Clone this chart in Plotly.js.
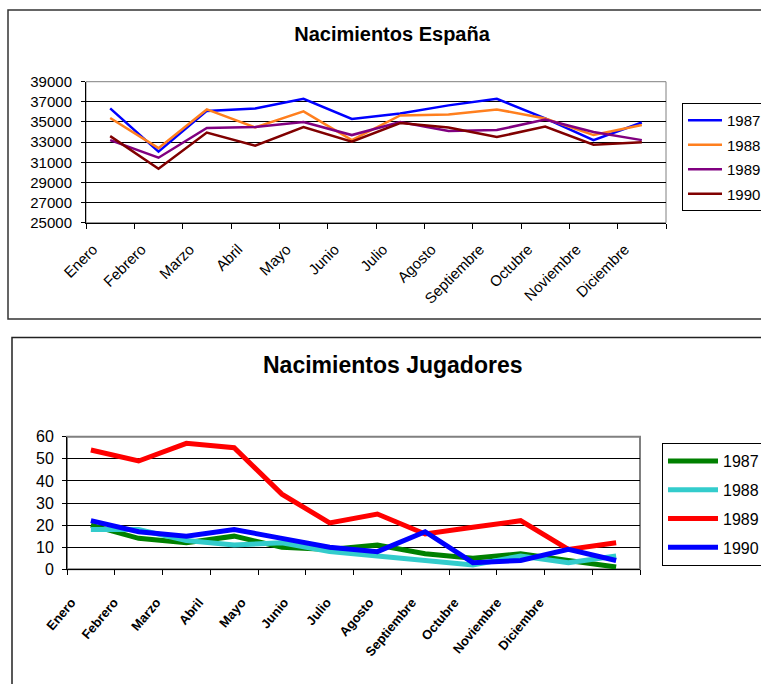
<!DOCTYPE html>
<html>
<head>
<meta charset="utf-8">
<script src="https://cdn.plot.ly/plotly-3.0.1.min.js"></script>
<style>html,body{margin:0;padding:0;background:#fff;}#chart{width:761px;height:684px;}</style>
</head>
<body>
<div id="chart"></div>
<script>
// ---- Data ----
const months = ['Enero','Febrero','Marzo','Abril','Mayo','Junio','Julio','Agosto','Septiembre','Octubre','Noviembre','Diciembre'];
const years = ['1987','1988','1989','1990'];

const esp1987 = [36350, 32050, 36100, 36350, 37300, 35300, 35850, 36650, 37300, 35350, 33200, 34950];
const esp1988 = [35400, 32400, 36250, 34450, 36050, 33200, 35650, 35750, 36250, 35350, 33700, 34700];
const esp1989 = [33200, 31450, 34400, 34500, 35000, 33700, 35000, 34100, 34200, 35250, 34000, 33200];
const esp1990 = [33600, 30350, 33950, 32650, 34500, 33050, 34900, 34450, 33500, 34550, 32750, 33000];

const jug1987 = [20, 14, 12, 15, 10, 9, 11, 7, 5, 7, 4, 1];
const jug1988 = [18, 18, 13, 11, 12, 8, 6, 4, 2, 6, 3, 6];
const jug1989 = [54, 49, 57, 55, 34, 21, 25, 16, 19, 22, 9, 12];
const jug1990 = [22, 17, 15, 18, 14, 10, 8, 17, 3, 4, 9, 4];

const espSeries = [esp1987, esp1988, esp1989, esp1990];
const jugSeries = [jug1987, jug1988, jug1989, jug1990];
const espColors = ['#0000FF', '#FF7F1E', '#800080', '#800000'];
const jugColors = ['#008000', '#33CCCC', '#FF0000', '#0000FF'];

// ---- Layout helpers ----
const W = 761, H = 684;
const px = v => v / W;
const py = v => 1 - v / H;
const FONT = 'Liberation Sans, Arial, sans-serif';

const traces = [];
espSeries.forEach((s, i) => {
  traces.push({
    type: 'scatter', mode: 'lines', x: months, y: s, name: years[i],
    xaxis: 'x', yaxis: 'y', legend: 'legend', legendgroup: 'e' + i,
    line: {color: espColors[i], width: 2.5}
  });
});
jugSeries.forEach((s, i) => {
  traces.push({
    type: 'scatter', mode: 'lines', x: months, y: s, name: years[i],
    xaxis: 'x2', yaxis: 'y2', legend: 'legend2', legendgroup: 'g' + i,
    line: {color: jugColors[i], width: 5}
  });
});
// empty helper trace so the label-only axis of the lower chart is created
traces.push({type: 'scatter', mode: 'lines', x: [], y: [], xaxis: 'x3', yaxis: 'y3',
  showlegend: false, hoverinfo: 'skip'});

const catAxis = (domain, anchor) => ({
  domain: domain, anchor: anchor, type: 'category', categoryorder: 'array', categoryarray: months,
  range: [-0.5, 11.5], tickson: 'boundaries', ticks: 'outside', ticklen: 5, tickcolor: '#000',
  showgrid: false, showline: true, linecolor: '#000', linewidth: 1, zeroline: false,
  fixedrange: true
});

const xTop = catAxis([px(86), px(666)], 'y');
Object.assign(xTop, {
  tickangle: -45, ticklabelshift: -17, ticklabelstandoff: 11,
  tickfont: {family: FONT, size: 15, color: '#000'}
});
const xBot = catAxis([px(67), px(640)], 'y2');
xBot.showticklabels = false;

const layout = {
  width: W, height: H,
  margin: {l: 0, r: 0, t: 0, b: 0, autoexpand: false},
  paper_bgcolor: '#fff', plot_bgcolor: 'rgba(0,0,0,0)',
  font: {family: FONT, color: '#000'},
  showlegend: true,
  title: {
    text: 'Nacimientos España', x: px(392), xanchor: 'center', xref: 'paper',
    y: py(34), yanchor: 'middle', yref: 'paper',
    font: {family: FONT, size: 20, weight: 'bold', color: '#000'}
  },
  xaxis: xTop,
  yaxis: {
    domain: [py(222.7), py(81.7)], anchor: 'x', range: [25000, 39000], dtick: 2000, tick0: 25000,
    tickformat: 'd',
    ticks: 'outside', ticklen: 4, tickcolor: '#000', ticklabelstandoff: 6,
    showgrid: true, gridcolor: '#000', gridwidth: 1, showline: true, linecolor: '#000', zeroline: false,
    tickfont: {family: FONT, size: 15, color: '#000'}, fixedrange: true
  },
  xaxis2: xBot,
  yaxis2: {
    domain: [py(569.3), py(436.7)], anchor: 'x2', range: [0, 60], dtick: 10, tick0: 0,
    ticks: 'outside', ticklen: 4, tickcolor: '#000', ticklabelstandoff: 5,
    showgrid: true, gridcolor: '#000', gridwidth: 1, showline: true, linecolor: '#000', zeroline: false,
    tickfont: {family: FONT, size: 16, color: '#000'}, fixedrange: true
  },
  // axis carrying the (compressed) month labels of the lower chart
  xaxis3: {
    visible: true,
    domain: [px(50), px(561)], anchor: 'y3', type: 'linear', range: [-0.5, 11.5],
    tickmode: 'array', tickvals: months.map((m, i) => i), ticktext: months,
    ticks: '', showline: false, showgrid: false, zeroline: false, showticklabels: true,
    tickangle: -50, ticklabelstandoff: 22,
    tickfont: {family: FONT, size: 13, weight: 'bold', color: '#000'}, fixedrange: true
  },
  yaxis3: {
    visible: false,
    domain: [py(569.3), py(436.7)], anchor: 'x3', range: [0, 1], fixedrange: true
  },
  legend: {
    x: px(682), xanchor: 'left', y: py(103), yanchor: 'top',
    bordercolor: '#000', borderwidth: 1, bgcolor: '#fff', tracegroupgap: 2,
    traceorder: 'grouped',
    font: {family: FONT, size: 15, color: '#000'}, itemwidth: 34
  },
  legend2: {
    x: px(662), xanchor: 'left', y: py(443), yanchor: 'top',
    bordercolor: '#000', borderwidth: 1, bgcolor: '#fff', tracegroupgap: 5,
    traceorder: 'grouped',
    font: {family: FONT, size: 16, color: '#000'}, itemwidth: 50
  },
  annotations: [{
    text: 'Nacimientos Jugadores', xref: 'paper', yref: 'paper',
    x: px(392), y: py(365), xanchor: 'center', yanchor: 'middle', showarrow: false,
    font: {family: FONT, size: 23, weight: 'bold', color: '#000'}
  }],
  shapes: [
    {type: 'rect', xref: 'paper', yref: 'paper', x0: px(8), x1: 1.05, y0: py(319), y1: py(10),
     line: {color: '#333', width: 1.5}, layer: 'below'},
    {type: 'rect', xref: 'paper', yref: 'paper', x0: px(12), x1: 1.05, y0: -0.05, y1: py(337.5),
     line: {color: '#222', width: 1.5}, layer: 'below'},
    {type: 'rect', xref: 'x domain', yref: 'y domain', x0: 0, x1: 1, y0: 0, y1: 1,
     line: {color: '#808080', width: 1}, layer: 'below'},
    {type: 'rect', xref: 'x2 domain', yref: 'y2 domain', x0: 0, x1: 1, y0: 0, y1: 1,
     line: {color: '#808080', width: 2}, layer: 'below'}
  ]
};

Plotly.newPlot('chart', traces, layout, {displayModeBar: false, staticPlot: true});
</script>
</body>
</html>
